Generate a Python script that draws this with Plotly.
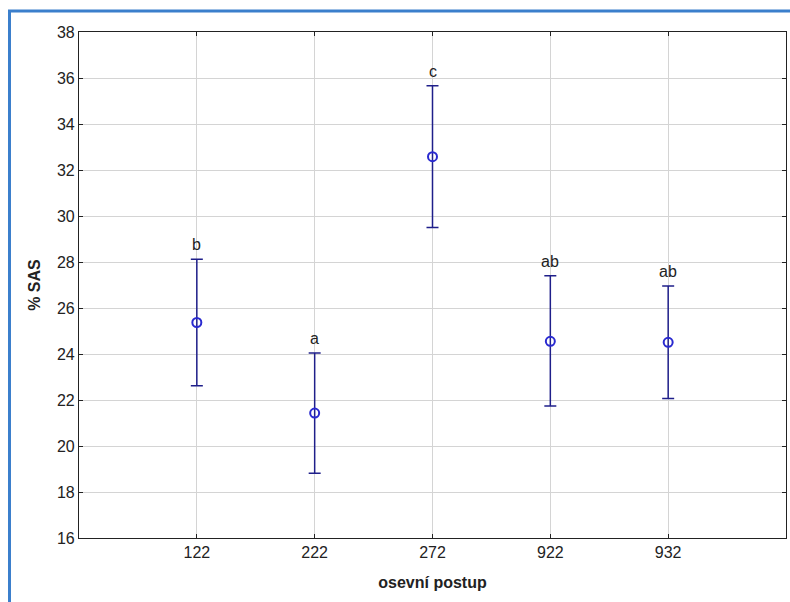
import plotly.graph_objects as go

# Seeding procedure groups and their mean %SAS with confidence half-widths
postup = ["122", "222", "272", "922", "932"]
prumer = [25.37, 21.43, 32.58, 24.55, 24.51]
chyba_horni = [2.75, 2.61, 3.08, 2.85, 2.45]
chyba_dolni = [2.75, 2.61, 3.08, 2.81, 2.45]
skupiny = ["b", "a", "c", "ab", "ab"]

W, H = 790, 602
ML, MR, MT, MB = 79, 4, 32, 64
pw, ph = W - ML - MR, H - MT - MB
FONT = "Liberation Sans, Arial"

fig = go.Figure()
fig.add_trace(go.Scatter(
    x=postup, y=prumer, mode="markers",
    marker=dict(symbol="circle-open", size=9, color="#2a2ad0", line=dict(width=2, color="#2a2ad0")),
    error_y=dict(type="data", symmetric=False, array=chyba_horni, arrayminus=chyba_dolni,
                 color="#1f1f8a", thickness=1.5, width=6),
    showlegend=False, hoverinfo="skip",
))

# Homogeneous-group letters above each upper whisker (category index as x position)
for i, (m, e, s) in enumerate(zip(prumer, chyba_horni, skupiny)):
    fig.add_annotation(x=i, y=m + e, xref="x", yref="y", text=s, showarrow=False,
                       yanchor="bottom", yshift=4,
                       font=dict(family=FONT, size=16, color="#222"))

# Blue frame around the graph window
def px_x(p):
    return (p - ML) / pw

def px_y(p):
    return (H - MB - p) / ph

fig.add_shape(type="rect", xref="paper", yref="paper",
              x0=px_x(9.5), x1=px_x(W + 20), y0=px_y(H + 20), y1=px_y(11),
              line=dict(color="#3b7fcc", width=3), fillcolor="rgba(0,0,0,0)", layer="above")

axis_common = dict(showline=True, linecolor="#222", linewidth=1.2, mirror="allticks",
                   ticks="inside", ticklen=4, tickcolor="#222",
                   showgrid=True, gridcolor="#d4d4d4", gridwidth=1, zeroline=False,
                   tickfont=dict(family=FONT, size=16, color="#222"))

fig.update_layout(
    width=W, height=H,
    margin=dict(l=ML, r=MR, t=MT, b=MB),
    paper_bgcolor="white", plot_bgcolor="white",
    xaxis=dict(type="category", range=[-1, 5], **axis_common,
               title=dict(text="<b>osevní postup</b>", standoff=16,
                          font=dict(family=FONT, size=16, color="#222"))),
    yaxis=dict(range=[16, 38], dtick=2, **axis_common,
               title=dict(text="<b>% SAS</b>", standoff=12,
                          font=dict(family=FONT, size=16, color="#222"))),
)

fig.write_html("out.html")
